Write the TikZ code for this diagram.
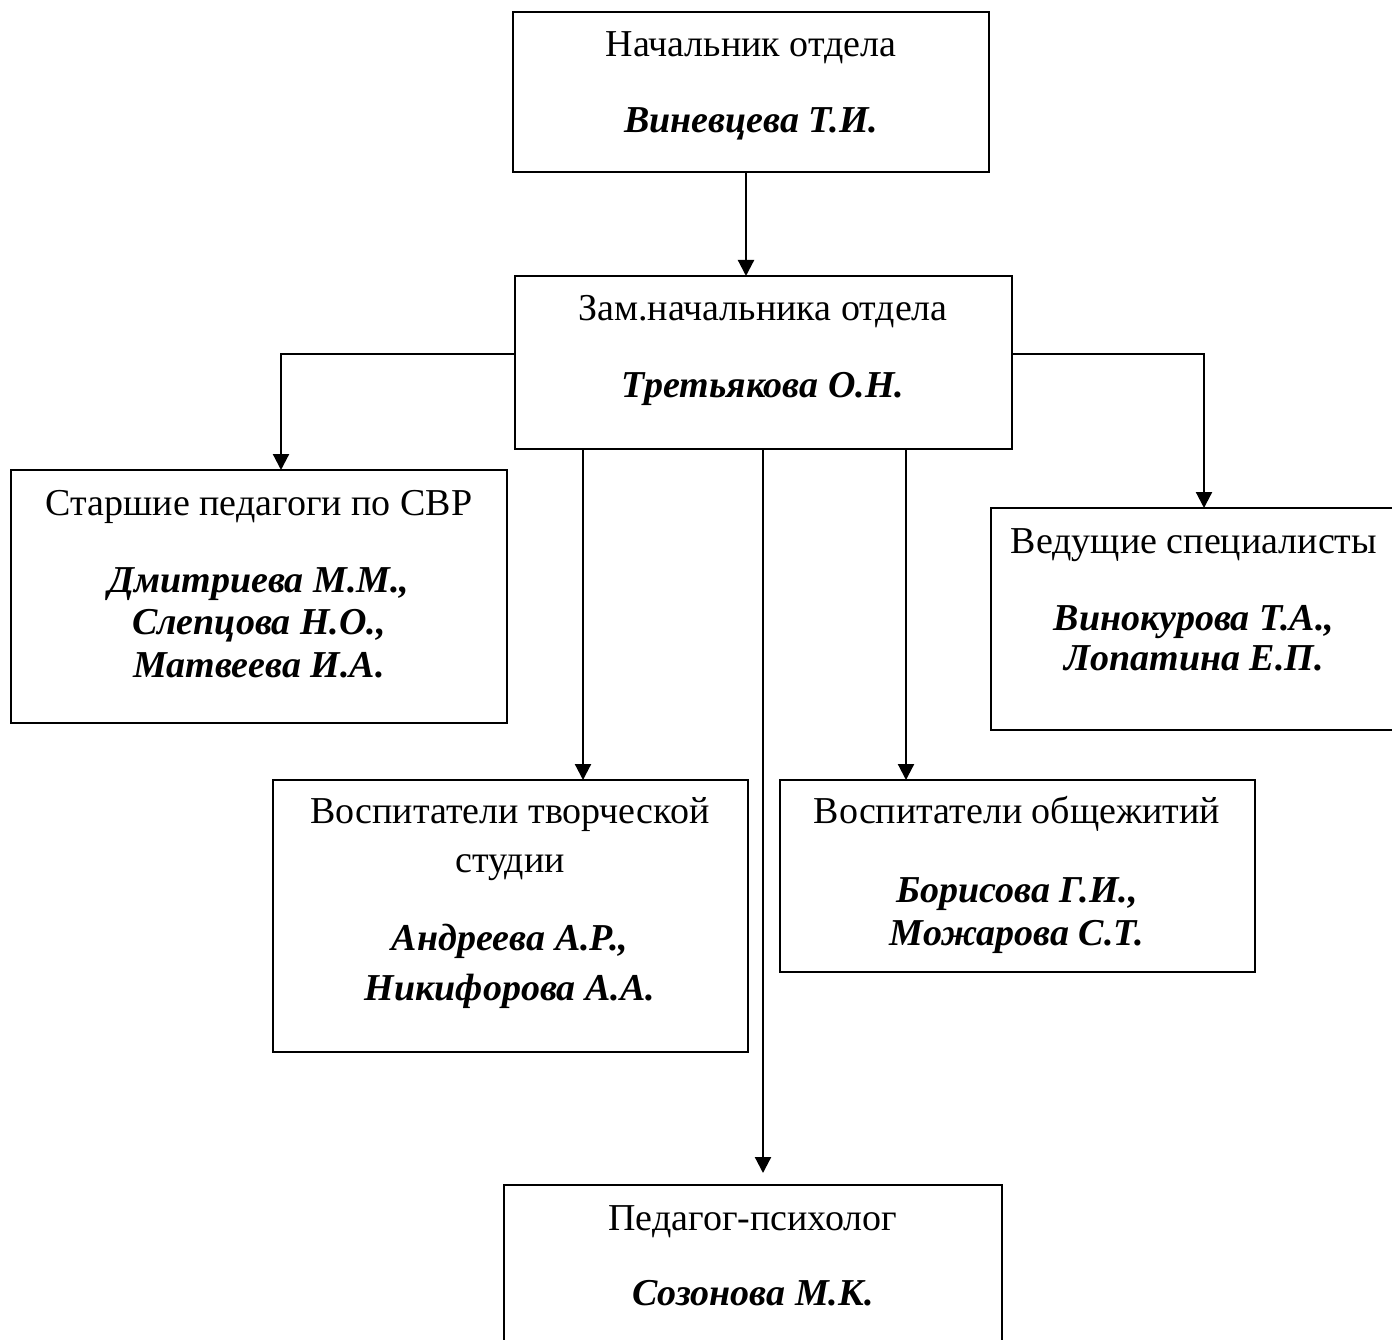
\documentclass[tikz,border=0pt]{standalone}
\usepackage{fontspec}
\setmainfont{Liberation Serif}
\usetikzlibrary{arrows.meta}
\begin{document}
\begin{tikzpicture}[x=1pt,y=-1pt,
  box/.style={draw,line width=2.2pt,anchor=north west,inner sep=0pt,outer sep=0pt},
  ln/.style={anchor=base,inner sep=0pt,font=\fontsize{38}{44}\selectfont},
  nm/.style={anchor=base,inner sep=0pt,font=\fontsize{38}{44}\selectfont\bfseries\itshape},
  conn/.style={line width=2.2pt,-{Triangle[width=16pt,length=16pt]}}]
\useasboundingbox (0,0) rectangle (1392,1340);
\clip (0,0) rectangle (1392,1340);
% boxes
\node[box,minimum width=476pt,minimum height=160pt] (b1) at (513,12) {};
\node[box,minimum width=497pt,minimum height=173pt] (b2) at (515,276) {};
\node[box,minimum width=496pt,minimum height=253pt] (b3) at (11,470) {};
\node[box,minimum width=406pt,minimum height=222pt] (b4) at (991,508) {};
\node[box,minimum width=475pt,minimum height=272pt] (b5) at (273,780) {};
\node[box,minimum width=475pt,minimum height=192pt] (b6) at (780,780) {};
\node[box,minimum width=498pt,minimum height=220pt] (b7) at (504,1185) {};
% texts
\node[ln] (t1a) at (751,57) {Начальник отдела};
\node[nm] (t1b) at (751,133) {Виневцева Т.И.};
\node[ln] (t2a) at (763,320) {Зам.начальника отдела};
\node[nm] (t2b) at (763,397) {Третьякова О.Н.};
\node[ln] (t3a) at (259,515) {Старшие педагоги по СВР};
\node[nm] (t3b) at (259,592) {Дмитриева М.М.,};
\node[nm] (t3c) at (259,634) {Слепцова Н.О.,};
\node[nm] (t3d) at (259,677) {Матвеева И.А.};
\node[ln] (t4a) at (1194,553) {Ведущие специалисты};
\node[nm] (t4b) at (1194,630) {Винокурова Т.А.,};
\node[nm] (t4c) at (1194,670) {Лопатина Е.П.};
\node[ln] (t5a) at (510,823) {Воспитатели творческой};
\node[ln] (t5b) at (510,872) {студии};
\node[nm] (t5c) at (510,950) {Андреева А.Р.,};
\node[nm] (t5d) at (510,1000) {Никифорова А.А.};
\node[ln] (t6a) at (1017,823) {Воспитатели общежитий};
\node[nm] (t6b) at (1017,902) {Борисова Г.И.,};
\node[nm] (t6c) at (1017,945) {Можарова С.Т.};
\node[ln] (t7a) at (753,1230) {Педагог-психолог};
\node[nm] (t7b) at (753,1305) {Созонова М.К.};
% connector guides
\coordinate (c0) at (746,0);
\coordinate (hy) at (0,354);
\coordinate (cl) at (281,0);
\coordinate (cr) at (1204,0);
\coordinate (d1) at (583,0);
\coordinate (d2) at (763,0);
\coordinate (d3) at (906,0);
\coordinate (e7) at (763,1173);
% connectors
\draw[conn] (b1.south -| c0) -- (b2.north -| c0);
\draw[conn] (b2.west |- hy) -| (b3.north -| cl);
\draw[conn] (b2.east |- hy) -| (b4.north -| cr);
\draw[conn] (b2.south -| d1) -- (b5.north -| d1);
\draw[conn] (b2.south -| d2) -- (e7);
\draw[conn] (b2.south -| d3) -- (b6.north -| d3);
\end{tikzpicture}
\end{document}
